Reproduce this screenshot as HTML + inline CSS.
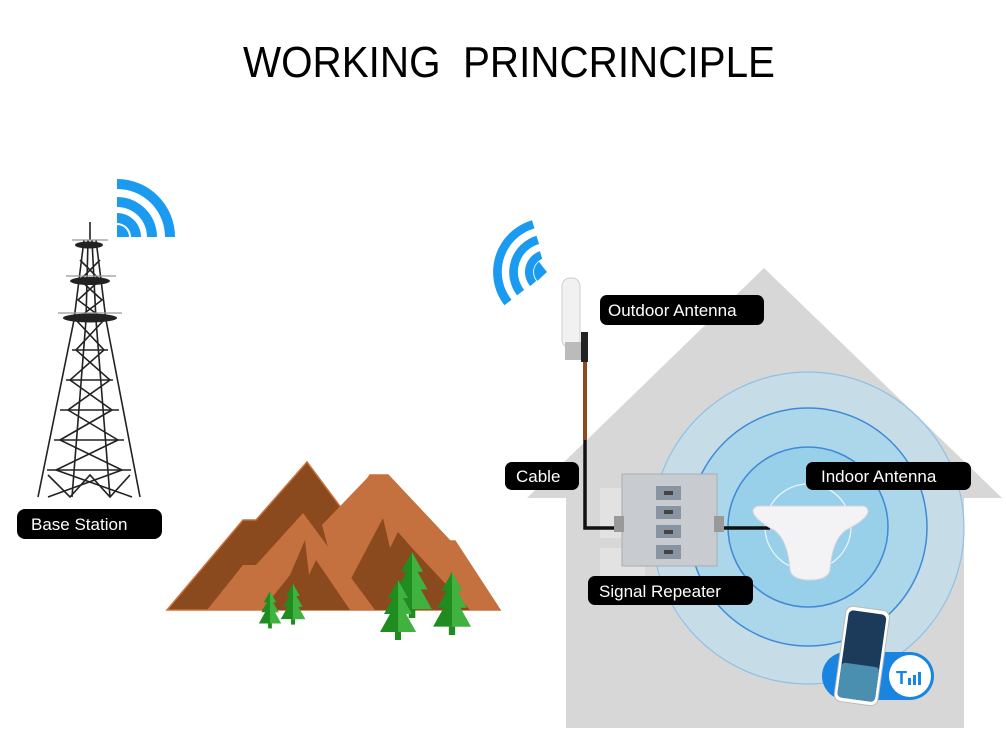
<!DOCTYPE html>
<html><head><meta charset="utf-8"><style>
html,body{margin:0;padding:0;background:#fff;}
svg{display:block;font-family:"Liberation Sans",Arial,sans-serif;}
</style></head><body>
<svg width="1006" height="747" viewBox="0 0 1006 747" xmlns="http://www.w3.org/2000/svg">
<defs>
<g id="tree">
<polygon points="0,-40 -10,-22 -5,-22 -14,-6 -8,-6 -18,12 18,12 8,-6 14,-6 5,-22 10,-22" fill="#1e8c1e"/>
<polygon points="0,-40 10,-22 5,-22 14,-6 8,-6 18,12 0,12" fill="#4cbf4c" opacity="0.75"/>
<rect x="-3" y="12" width="6" height="8" fill="#1e8c1e"/>
</g>
</defs>
<rect width="1006" height="747" fill="#fff"/>
<text x="243" y="77" font-size="44" textLength="532" lengthAdjust="spacingAndGlyphs" fill="#000" xml:space="preserve">WORKING  PRINCRINCIPLE</text>

<!-- House -->
<polygon points="764,268 1002,498 964,498 964,728 566,728 566,498 527,498" fill="#d7d7d7"/>
<g fill="#e2e2e2">
<rect x="600" y="488" width="45" height="50"/><rect x="600" y="548" width="45" height="50"/>
<rect x="820" y="488" width="55" height="50"/><rect x="885" y="488" width="55" height="50"/>
<rect x="820" y="548" width="55" height="55"/><rect x="885" y="548" width="55" height="55"/>
</g>
<circle cx="808" cy="528" r="156" fill="#c6dde7" stroke="#8ec0ea" stroke-width="1.2"/>
<circle cx="808" cy="527" r="119" fill="#acd6e9" stroke="#3f8ad8" stroke-width="1.5"/>
<circle cx="808" cy="527" r="80" fill="#98d0ea" stroke="#3f8ad8" stroke-width="1.5"/>
<circle cx="808" cy="527" r="43" fill="none" stroke="#eef6fb" stroke-width="1.2"/>

<!-- Cable -->
<line x1="585" y1="335" x2="585" y2="440" stroke="#8a4b1f" stroke-width="4"/>
<polyline points="585,440 585,528 625,528" fill="none" stroke="#111" stroke-width="3.5"/>
<line x1="715" y1="528" x2="770" y2="528" stroke="#111" stroke-width="3.5"/>

<!-- Outdoor antenna -->
<rect x="562" y="278" width="18" height="70" rx="8" fill="#f1f1f1" stroke="#cfcfcf"/>
<rect x="565" y="342" width="18" height="18" fill="#bbb"/>
<rect x="581" y="332" width="7" height="30" fill="#222"/>

<!-- Repeater -->
<rect x="622" y="474" width="95" height="92" fill="#c8ccd0" stroke="#a9adb1"/>
<rect x="614" y="516" width="10" height="16" fill="#999"/><rect x="714" y="516" width="10" height="16" fill="#999"/>
<g fill="#8894a2"><rect x="656" y="486" width="25" height="14"/><rect x="656" y="506" width="25" height="13"/><rect x="656" y="525" width="25" height="13"/><rect x="656" y="545" width="25" height="14"/></g>
<g fill="#444"><rect x="664" y="491" width="9" height="4"/><rect x="664" y="510" width="9" height="4"/><rect x="664" y="530" width="9" height="4"/><rect x="664" y="550" width="9" height="4"/></g>

<!-- Indoor antenna dome -->
<path d="M753,512 Q753,506 760,506 L862,506 Q868,506 868,512 Q866,520 846,530 Q832,540 830,570 Q828,580 810,580 Q792,580 790,570 Q788,540 774,530 Q755,520 753,512 Z" fill="#f3f3f5" stroke="#d5d5da"/>

<!-- Phone pill -->
<rect x="822" y="652" width="112" height="48" rx="24" fill="#1a85e0"/>
<circle cx="910" cy="676" r="21" fill="#fff"/>
<text x="896" y="684" font-size="18" fill="#1a85e0" font-weight="bold">T</text>
<g fill="#1a85e0"><rect x="908" y="678" width="3" height="7"/><rect x="913" y="675" width="3" height="10"/><rect x="918" y="672" width="3" height="13"/></g>
<g transform="rotate(8 862 655)">
<rect x="840" y="608" width="44" height="96" rx="7" fill="#fff" stroke="#bbb"/>
<rect x="843" y="612" width="38" height="88" rx="5" fill="#1c3b5a"/>
<rect x="843" y="665" width="38" height="35" rx="4" fill="#4a8fb0"/>
</g>

<!-- Labels -->
<g fill="#000">
<rect x="600" y="295" width="164" height="30" rx="7"/>
<rect x="505" y="462" width="74" height="28" rx="7"/>
<rect x="806" y="462" width="165" height="28" rx="7"/>
<rect x="588" y="576" width="165" height="29" rx="7"/>
<rect x="17" y="509" width="145" height="30" rx="8"/>
</g>
<g fill="#fff" font-size="17">
<text x="608" y="316">Outdoor Antenna</text>
<text x="516" y="482">Cable</text>
<text x="821" y="482">Indoor Antenna</text>
<text x="599" y="597">Signal Repeater</text>
<text x="31" y="530">Base Station</text>
</g>

<!-- Tower wifi -->
<g fill="#1a9bf0">
<path d="M117,237 L117,225 A12,12 0 0 1 129,237 Z"/>
<path d="M117,213 A24,24 0 0 1 141,237 L131,237 A14,14 0 0 0 117,223 Z"/>
<path d="M117,197 A40,40 0 0 1 157,237 L147,237 A30,30 0 0 0 117,207 Z"/>
<path d="M117,179 A58,58 0 0 1 175,237 L165,237 A48,48 0 0 0 117,189 Z"/>
</g>
<!-- Outdoor wifi -->
<g fill="#1a9bf0" transform="translate(547,272) rotate(142)">
<path d="M0,0 L13,0 A13,13 0 0 1 -1,13 Z" transform="rotate(-5)"/>
<path d="M22,0 A22,22 0 0 1 -8,20.5 L-4.7,13 A14,14 0 0 0 14,0 Z" transform="rotate(-2)"/>
<path d="M38,0 A38,38 0 0 1 -14,35 L-11,27 A29,29 0 0 0 29,0 Z"/>
<path d="M54,0 A54,54 0 0 1 -20,50 L-17,42 A45,45 0 0 0 45,0 Z"/>
</g>

<!-- Tower -->
<g stroke="#222" stroke-width="1.6" fill="none">
<line x1="90" y1="222" x2="90" y2="240"/>
<polyline points="84,240 74,320 38,497"/><polyline points="96,240 106,320 140,497"/>
<polyline points="88,240 86,320 72,497"/><polyline points="92,240 96,320 110,497"/>
<path d="M76,320 L104,350 L70,380 L112,410 L60,440 L122,470 L48,497 M104,320 L76,350 L110,380 L68,410 L118,440 L56,470 L132,497"/>
<path d="M80,260 L100,280 L78,300 L102,318 M100,260 L80,280 L102,300 L78,318"/>
<line x1="72" y1="350" x2="108" y2="350"/><line x1="66" y1="380" x2="113" y2="380"/>
<line x1="60" y1="410" x2="119" y2="410"/><line x1="54" y1="440" x2="124" y2="440"/>
<line x1="47" y1="470" x2="131" y2="470"/>
<path d="M48,475 L70,497 L90,475 L110,497 L130,475"/>
</g>
<g fill="#222">
<ellipse cx="89" cy="245" rx="14" ry="3.5"/><ellipse cx="90" cy="281" rx="20" ry="4"/><ellipse cx="90" cy="318" rx="27" ry="4.5"/>
</g>
<g stroke="#999" stroke-width="1.2">
<line x1="72" y1="240" x2="108" y2="240"/><line x1="66" y1="276" x2="116" y2="276"/><line x1="58" y1="313" x2="122" y2="313"/>
</g>

<!-- Mountains -->
<polygon points="167,610 243,520 256,520 307,462 345,513 370,475 388,475 450,541 455,541 500,610" fill="#8b4a1e" stroke="#c8703a" stroke-width="1.5"/>
<polygon points="322,525 370,475 388,475 450,541 455,541 500,610 345,610" fill="#c5703f"/>
<polygon points="383,518 390,548 398,532 412,548 470,610 360,610 345,590" fill="#8b4a1e"/>
<polygon points="207,610 243,565 256,565 303,513 375,610" fill="#c5703f"/>
<polygon points="305,540 309,575 316,560 350,610 262,610 290,575" fill="#8b4a1e"/>
<!-- Trees -->
<use href="#tree" transform="translate(270,616) scale(0.62)"/>
<use href="#tree" transform="translate(293,611) scale(0.68)"/>
<use href="#tree" transform="translate(412,596) scale(1.1)"/>
<use href="#tree" transform="translate(398,620) scale(1.0)"/>
<use href="#tree" transform="translate(452,614) scale(1.05)"/>
</svg>
</body></html>
